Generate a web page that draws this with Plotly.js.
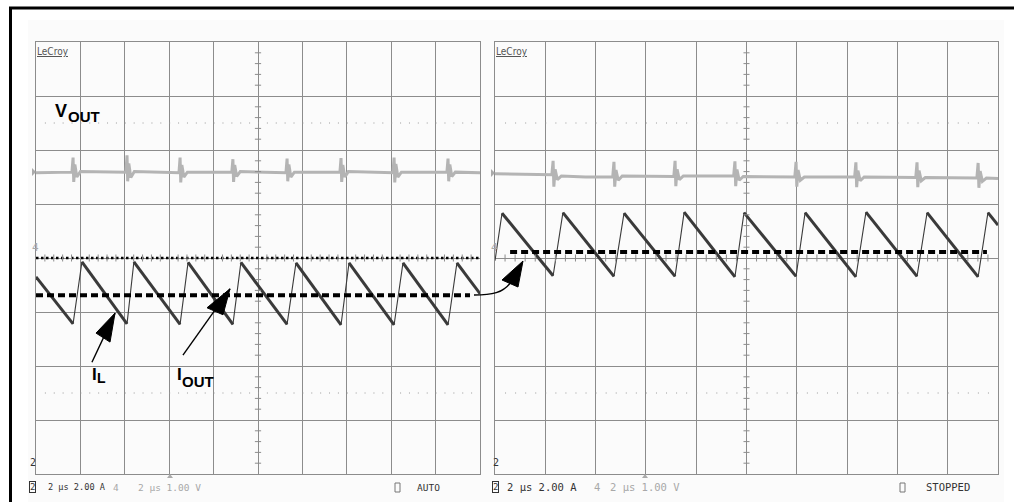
<!DOCTYPE html>
<html><head><meta charset="utf-8">
<script src="https://cdn.plot.ly/plotly-3.0.1.min.js"></script>
<style>html,body{margin:0;padding:0;background:#fff}#chart{width:1014px;height:502px}</style>
</head><body><div id="chart"></div>
<script>
// Time axis in microseconds (2 us/div, 10 div). Vertical axis in scope divisions
// (8 div; I_L shown at 2.00 A/div, V_OUT at 1.00 V/div).

// ---------- Left capture ----------
const ilLeftTime = [0, 1.67, 2.07, 4.10, 4.41, 6.49, 6.85, 8.87, 9.23, 11.31, 11.71, 13.74, 14.10, 16.13, 16.53, 18.56, 18.96, 20];
const ilLeftDiv  = [-0.35, -1.22, -0.07, -1.22, -0.07, -1.23, -0.08, -1.23, -0.08, -1.23, -0.09, -1.24, -0.09, -1.24, -0.09, -1.24, -0.09, -0.66];
const ioutLeftTime = [0, 19.55];
const ioutLeftDiv  = [-0.69, -0.69];
const refLeftTime = [0, 20];
const refLeftDiv  = [0, 0];
const voutLeftTime = [0, 1.62, 1.67, 1.70, 1.75, 1.84, 2.00, 4.05, 4.10, 4.13, 4.18, 4.27, 4.43, 6.44, 6.49, 6.52, 6.57, 6.66, 6.82, 8.82, 8.87, 8.90, 8.95, 9.04, 9.20, 11.26, 11.31, 11.34, 11.39, 11.48, 11.64, 13.69, 13.74, 13.77, 13.82, 13.91, 14.07, 16.08, 16.13, 16.16, 16.21, 16.30, 16.46, 18.51, 18.56, 18.59, 18.64, 18.73, 18.89, 20];
const voutLeftDiv  = [1.58, 1.59, 1.86, 1.41, 1.73, 1.50, 1.60, 1.59, 1.90, 1.42, 1.75, 1.49, 1.60, 1.58, 1.86, 1.40, 1.72, 1.50, 1.59, 1.59, 1.83, 1.41, 1.72, 1.51, 1.60, 1.58, 1.84, 1.42, 1.73, 1.50, 1.59, 1.59, 1.85, 1.41, 1.72, 1.50, 1.60, 1.58, 1.86, 1.40, 1.74, 1.50, 1.59, 1.59, 1.84, 1.42, 1.73, 1.51, 1.59, 1.58];

// ---------- Right capture ----------
const ilRightTime = [0, 0.28, 2.31, 2.70, 4.73, 5.13, 7.16, 7.52, 9.54, 9.90, 11.97, 12.33, 14.35, 14.75, 16.78, 17.18, 19.21, 19.60, 20];
const ilRightDiv  = [-0.05, 0.83, -0.33, 0.84, -0.34, 0.83, -0.34, 0.85, -0.35, 0.84, -0.34, 0.84, -0.35, 0.85, -0.34, 0.84, -0.35, 0.84, 0.61];
const ioutRightTime = [0.6, 19.56];
const ioutRightDiv  = [0.11, 0.11];
const voutRightTime = [0, 1.0, 2.26, 2.31, 2.34, 2.39, 2.48, 2.64, 3.6, 4.68, 4.73, 4.76, 4.81, 4.90, 5.06, 7.11, 7.16, 7.19, 7.24, 7.33, 7.49, 9.49, 9.54, 9.57, 9.62, 9.71, 9.87, 11.92, 11.97, 12.00, 12.05, 12.14, 12.30, 14.30, 14.35, 14.38, 14.43, 14.52, 14.68, 16.73, 16.78, 16.81, 16.86, 16.95, 17.11, 19.16, 19.21, 19.24, 19.29, 19.38, 19.54, 20];
const voutRightDiv  = [1.56, 1.55, 1.54, 1.80, 1.32, 1.64, 1.45, 1.52, 1.50, 1.50, 1.78, 1.32, 1.63, 1.44, 1.52, 1.51, 1.80, 1.33, 1.64, 1.45, 1.52, 1.52, 1.79, 1.33, 1.64, 1.44, 1.51, 1.50, 1.78, 1.32, 1.63, 1.44, 1.50, 1.50, 1.77, 1.31, 1.62, 1.43, 1.50, 1.49, 1.77, 1.31, 1.62, 1.43, 1.49, 1.48, 1.76, 1.30, 1.61, 1.42, 1.48, 1.47];

// ---------- Labels ----------
const statusLeft  = ['2 \u00b5s 2.00 A', '4', '2 \u00b5s 1.00 V', 'AUTO'];
const statusRight = ['2 \u00b5s 2.00 A', '4', '2 \u00b5s 1.00 V', 'STOPPED'];

// ---------- helpers ----------
const W = 1014, H = 502;
const px = x => x / W;
const py = y => 1 - y / H;

function fallingOnly(t, v) {
  const xs = [], ys = [];
  for (let k = 0; k < t.length - 1; k++) {
    if (v[k + 1] < v[k]) { xs.push(t[k], t[k + 1], null); ys.push(v[k], v[k + 1], null); }
  }
  return {xs, ys};
}

const base = {mode: 'lines', hoverinfo: 'skip', showlegend: false};
const fL = fallingOnly(ilLeftTime, ilLeftDiv);
const fR = fallingOnly(ilRightTime, ilRightDiv);
const ilColor = '#3a3a3a';
const data = [
  {...base, x: voutLeftTime, y: voutLeftDiv, xaxis: 'x', yaxis: 'y', line: {color: '#b4b4b4', width: 3}},
  {...base, x: voutRightTime, y: voutRightDiv, xaxis: 'x2', yaxis: 'y2', line: {color: '#b4b4b4', width: 3}},
  {...base, x: refLeftTime, y: refLeftDiv, xaxis: 'x', yaxis: 'y', line: {color: '#000', width: 2.5, dash: '2.5px,2.5px'}},
  {...base, x: ilLeftTime, y: ilLeftDiv, xaxis: 'x', yaxis: 'y', line: {color: ilColor, width: 1.1}},
  {...base, x: fL.xs, y: fL.ys, xaxis: 'x', yaxis: 'y', line: {color: ilColor, width: 3}},
  {...base, x: ilRightTime, y: ilRightDiv, xaxis: 'x2', yaxis: 'y2', line: {color: ilColor, width: 1.1}},
  {...base, x: fR.xs, y: fR.ys, xaxis: 'x2', yaxis: 'y2', line: {color: ilColor, width: 3}},
  {...base, x: ioutLeftTime, y: ioutLeftDiv, xaxis: 'x', yaxis: 'y', line: {color: '#000', width: 4, dash: '7px,4px'}},
  {...base, x: ioutRightTime, y: ioutRightDiv, xaxis: 'x2', yaxis: 'y2', line: {color: '#000', width: 4, dash: '7px,4px'}}
];

const gridAxis = {showgrid: true, gridcolor: '#8c8c8c', gridwidth: 1, zeroline: false, showline: true,
  linecolor: '#8c8c8c', linewidth: 1, mirror: true, showticklabels: false, ticks: '', fixedrange: true};

const shapes = [];
// page background + frame
shapes.push({type: 'rect', xref: 'paper', yref: 'paper', x0: px(28), x1: px(1004), y0: 0, y1: py(20), fillcolor: '#fbfbfb', line: {width: 0}, layer: 'below'});
shapes.push({type: 'line', xref: 'paper', yref: 'paper', x0: px(9), x1: 1, y0: py(8), y1: py(8), line: {color: '#000', width: 3}});
shapes.push({type: 'line', xref: 'paper', yref: 'paper', x0: px(10.5), x1: px(10.5), y0: 0, y1: py(8), line: {color: '#000', width: 3}});

// centre-line minor ticks and dotted guide rows for both panels
[['x', 'y', 0.14, '1px,7.88px'], ['x2', 'y2', 0.12, '1px,9.06px']].forEach(([xr, yr, hx, dash]) => {
  for (let yv = -3.8; yv < 3.85; yv += 0.2) {
    if (Math.abs(yv - Math.round(yv)) < 1e-6) continue;
    shapes.push({type: 'line', xref: xr, yref: yr, x0: 10 - hx, x1: 10 + hx, y0: yv, y1: yv, line: {color: '#8c8c8c', width: 1}});
  }
  for (let xv = 0.4; xv < 19.9; xv += 0.4) {
    if (Math.abs(xv / 2 - Math.round(xv / 2)) < 1e-6) continue;
    shapes.push({type: 'line', xref: xr, yref: yr, x0: xv, x1: xv, y0: -0.065, y1: 0.065, line: {color: '#8c8c8c', width: 1}});
  }
  [2.5, -2.5].forEach(yv => shapes.push({type: 'line', xref: xr, yref: yr, x0: 0.4, x1: 20, y0: yv, y1: yv,
    line: {color: '#9a9a9a', width: 1, dash: dash}}));
});

// straight arrows (shaft in data coordinates, head as pixel path anchored at the tip)
function arrow(xr, yr, tail, tip, head) {
  shapes.push({type: 'line', xref: xr, yref: yr, x0: tail[0], y0: tail[1], x1: tip[0], y1: tip[1], line: {color: '#000', width: 1.4}});
  shapes.push({type: 'path', xref: xr, yref: yr, xsizemode: 'pixel', ysizemode: 'pixel', xanchor: tip[0], yanchor: tip[1],
    path: head, fillcolor: '#000', line: {color: '#000', width: 1}});
}
arrow('x', 'y', [2.52, -1.93], [3.56, -1.02], 'M0,0 L-19,-20 L-5,-29 Z');
arrow('x', 'y', [6.62, -1.80], [8.74, -0.57], 'M0,0 L-23,-19 L-7,-26 Z');
// curved arrow linking the two captures
shapes.push({type: 'path', xref: 'paper', yref: 'paper',
  path: `M${px(474)},${py(295)} C${px(492)},${py(295)} ${px(503)},${py(293)} ${px(511)},${py(282)}`,
  line: {color: '#000', width: 1.4}});
shapes.push({type: 'path', xref: 'paper', yref: 'paper',
  path: `M${px(523)},${py(261)} L${px(502)},${py(280)} L${px(518)},${py(287)} Z`, fillcolor: '#000', line: {color: '#000', width: 1}});

// small scope markers
function tri(path, color) { shapes.push({type: 'path', xref: 'paper', yref: 'paper', path, fillcolor: color, line: {width: 0}}); }
tri(`M${px(32)},${py(168)} L${px(36)},${py(172)} L${px(32)},${py(176)} Z`, '#aaa');
tri(`M${px(491)},${py(169)} L${px(495)},${py(173)} L${px(491)},${py(177)} Z`, '#aaa');
tri(`M${px(167)},${py(478)} L${px(170)},${py(474)} L${px(173)},${py(478)} Z`, '#aaa');
tri(`M${px(642)},${py(478)} L${px(645)},${py(474)} L${px(648)},${py(478)} Z`, '#aaa');
[[395, 483], [900, 483]].forEach(([x, y]) => shapes.push({type: 'rect', xref: 'paper', yref: 'paper',
  x0: px(x), x1: px(x + 5), y0: py(y + 9), y1: py(y), line: {color: '#777', width: 1}}));

const annotations = [];
function txt(text, x, y, font, extra) {
  annotations.push(Object.assign({text, xref: 'paper', yref: 'paper', x: px(x), y: py(y), xanchor: 'left', yanchor: 'middle',
    showarrow: false, borderpad: 0, font}, extra || {}));
}
const bold = (size) => ({family: 'Arial, Liberation Sans, sans-serif', size, color: '#000'});
txt('<b>V</b>', 54, 110.5, bold(18));
txt('<b>OUT</b>', 67, 116.5, bold(15));
txt('<b>I</b>', 91, 374, bold(17));
txt('<b>L</b>', 96, 378, bold(14));
txt('<b>I</b>', 176, 374, bold(17));
txt('<b>OUT</b>', 181, 381.5, bold(15));

const lecroy = {family: 'DejaVu Sans Condensed, DejaVu Sans, sans-serif', size: 10, color: '#555', lineposition: 'under'};
txt('LeCroy', 36, 51, lecroy);
txt('LeCroy', 495, 51, lecroy);

const monoDark = (s) => ({family: 'DejaVu Sans Mono, monospace', size: s, color: '#333'});
const monoLight = (s) => ({family: 'DejaVu Sans Mono, monospace', size: s, color: '#a8a8a8'});
// left status line
txt(statusLeft[0], 47, 487, monoDark(8.6));
txt(statusLeft[1], 112, 487, monoLight(9.5));
txt(statusLeft[2], 137, 487, monoLight(9.5));
txt(statusLeft[3], 416, 487, monoDark(9.5));
// right status line
txt(statusRight[0], 506, 487, monoDark(10.5));
txt(statusRight[1], 593, 487, monoLight(10.5));
txt(statusRight[2], 609, 487, monoLight(10.5));
txt(statusRight[3], 925, 487, monoDark(10.5));
// channel markers
[29, 492].forEach(x => {
  txt('2', x, 462, monoDark(10));
  txt('2', x, 487, monoDark(9), {bordercolor: '#333', borderwidth: 1, borderpad: 0});
});
txt('4', 31, 247, monoLight(11));
txt('4', 490, 247, monoLight(11));

const layout = {
  width: W, height: H, autosize: false,
  margin: {l: 0, r: 0, t: 0, b: 0, pad: 0},
  paper_bgcolor: '#fff', plot_bgcolor: '#fff',
  showlegend: false,
  xaxis:  {...gridAxis, domain: [px(36), px(480)], range: [0, 20], dtick: 2, tick0: 0, anchor: 'y'},
  yaxis:  {...gridAxis, domain: [py(474), py(42)], range: [-4, 4], dtick: 1, tick0: 0, anchor: 'x'},
  xaxis2: {...gridAxis, domain: [px(495), px(998)], range: [0, 20], dtick: 2, tick0: 0, anchor: 'y2'},
  yaxis2: {...gridAxis, domain: [py(474), py(42)], range: [-4, 4], dtick: 1, tick0: 0, anchor: 'x2'},
  shapes, annotations
};
Plotly.newPlot('chart', data, layout, {staticPlot: true, displayModeBar: false});
</script></body></html>
